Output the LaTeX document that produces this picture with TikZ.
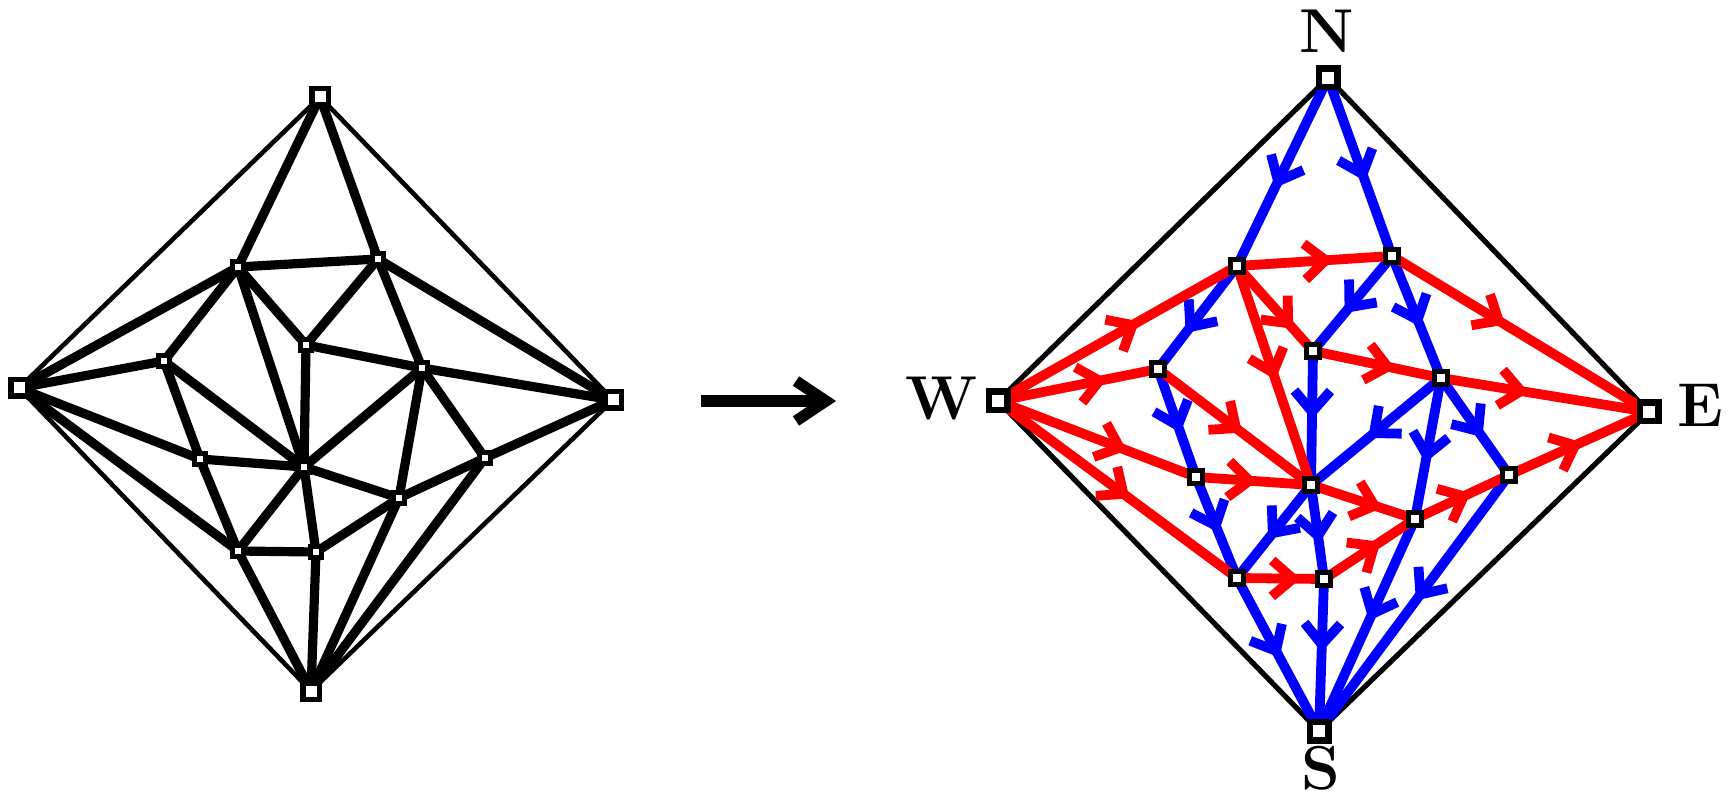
\documentclass[tikz,border=0pt]{standalone}
\usepackage{fontspec}
\usetikzlibrary{arrows.meta,decorations.markings}
\pgfdeclarelayer{bg}
\pgfsetlayers{bg,main}
\begin{document}
\begin{tikzpicture}[x=0.5pt,y=-0.5pt,
  sq/.style={draw=black,fill=white,rectangle,inner sep=0pt},
  lsmall/.style={sq,minimum size=5.4pt,line width=2.3pt},
  lbig/.style={sq,minimum size=8.2pt,line width=2.7pt},
  rsmall/.style={sq,minimum size=6.2pt,line width=2.6pt},
  rbig/.style={sq,minimum size=9.4pt,line width=3.1pt},
  lthin/.style={line width=2.3pt},
  lthick/.style={line width=4.6pt},
  rthin/.style={line width=2.6pt},
  cedge/.style 2 args={line width=4.9pt,draw=#1,postaction={decorate},
    decoration={markings,mark=at position #2 with {\arrow[#1]{Straight Barb[length=10.5pt,width=18pt]}}}},
  lbl/.style={font=\fontsize{31}{31}\selectfont\bfseries,anchor=base,inner sep=0pt}
]
\useasboundingbox (0,0) rectangle (1732,801);

% ---------- left graph ----------
\node[lbig] (lN) at (320,97) {};
\node[lbig] (lW) at (19,388) {};
\node[lbig] (lE) at (613,400) {};
\node[lbig] (lS) at (311,691) {};
\node[lsmall] (la) at (238,267) {};
\node[lsmall] (lb) at (378,259) {};
\node[lsmall] (lc) at (306,345) {};
\node[lsmall] (ld) at (164,361) {};
\node[lsmall] (le) at (422,368) {};
\node[lsmall] (lf) at (200,459) {};
\node[lsmall] (lg) at (304,467) {};
\node[lsmall] (lh) at (485,458) {};
\node[lsmall] (li) at (399,498) {};
\node[lsmall] (lj) at (238,551) {};
\node[lsmall] (lk) at (316,552) {};

% ---------- right graph ----------
\node[rbig] (rN) at (1328,78) {};
\node[rbig] (rW) at (998,401) {};
\node[rbig] (rE) at (1649,412) {};
\node[rbig] (rS) at (1319,731) {};
\node[rsmall] (ra) at (1237,266) {};
\node[rsmall] (rb) at (1392,256) {};
\node[rsmall] (rc) at (1313,351) {};
\node[rsmall] (rd) at (1158,369) {};
\node[rsmall] (re) at (1441,378) {};
\node[rsmall] (rf) at (1196,477) {};
\node[rsmall] (rg) at (1311,485) {};
\node[rsmall] (rh) at (1509,475) {};
\node[rsmall] (ri) at (1415,519) {};
\node[rsmall] (rj) at (1237,578) {};
\node[rsmall] (rk) at (1324,579) {};

\node[lbl] (labN) at (1327,53) {N};
\node[lbl] (labW) at (942,420) {W};
\node[lbl] (labE) at (1700,427) {E};
\node[lbl] (labS) at (1321,789) {S};

% middle arrow
\coordinate (arrA) at (701,401);
\coordinate (arrB) at (836,401);
\draw[line width=5.6pt,-{Straight Barb[length=15pt,width=20pt]}] (arrA) -- (arrB);

\begin{pgfonlayer}{bg}
  % left outer thin edges
  \foreach \s/\t in {N/W,N/E,W/S,E/S}
    \draw[lthin] (l\s.center) -- (l\t.center);
  % left thick edges
  \foreach \s/\t in {N/a,N/b,a/b,a/W,a/d,a/c,a/g,b/c,b/e,b/E,c/e,c/g,d/W,d/g,d/f,
      W/f,W/j,e/g,e/E,e/i,e/h,f/g,f/j,g/j,g/k,g/i,h/E,h/i,h/S,i/k,i/S,j/k,j/S,k/S}
    \draw[lthick] (l\s.center) -- (l\t.center);
  % right outer thin edges
  \foreach \s/\t in {N/W,N/E,W/S,E/S}
    \draw[rthin] (r\s.center) -- (r\t.center);
  % blue edges
  \foreach \s/\t/\p in {N/a/0.585,N/b/0.58,a/d/0.65,b/c/0.6,b/e/0.58,d/f/0.59,
      c/g/0.51,e/g/0.56,e/i/0.6,e/h/0.61,f/j/0.55,g/j/0.58,g/k/0.62,
      i/S/0.48,h/S/0.49,j/S/0.52,k/S/0.48}
    \draw[cedge={blue}{\p}] (r\s.center) -- (r\t.center);
  % red edges
  \foreach \s/\t/\p in {W/a/0.59,W/d/0.68,W/f/0.65,W/j/0.55,a/b/0.62,a/c/0.74,
      a/g/0.52,d/g/0.55,f/g/0.53,c/e/0.64,b/E/0.44,e/E/0.42,g/i/0.68,
      j/k/0.73,k/i/0.62,i/h/0.59,h/E/0.52}
    \draw[cedge={red}{\p}] (r\s.center) -- (r\t.center);
\end{pgfonlayer}
\end{tikzpicture}
\end{document}
